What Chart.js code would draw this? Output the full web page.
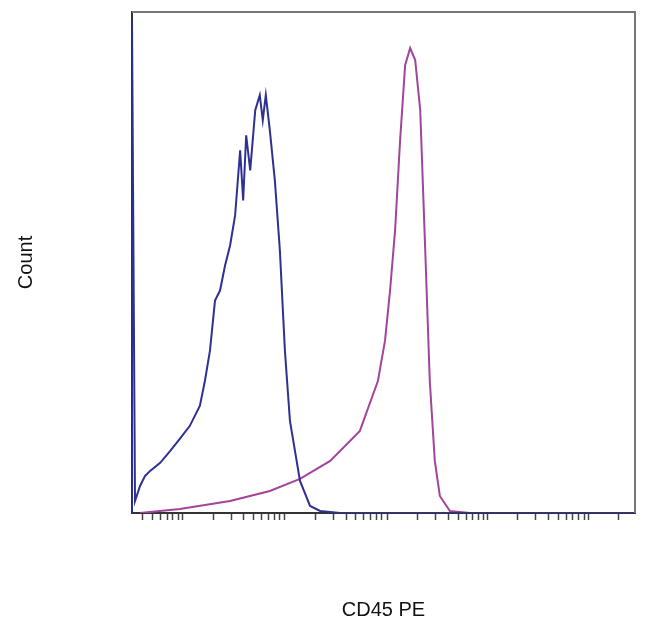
<!DOCTYPE html>
<html>
<head>
<meta charset="utf-8">
<script src="https://cdn.jsdelivr.net/npm/chart.js@4"></script>
<style>
  html, body { margin: 0; padding: 0; background: #fff; }
  #wrap { width: 650px; height: 627px; }
</style>
</head>
<body>
<div id="wrap"><canvas id="c"></canvas></div>
<script>
// data (x in 0-100 log display units, y in % of max count)
const isoX = [0,0,0.6,1.6,2.6,3.6,5.6,7.6,9.5,11.5,13.5,14.5,15.5,16.5,17.5,18.5,19.5,20.5,21.5,22.1,22.7,23.5,24.5,25.4,26.0,26.6,27.4,28.4,29.4,30.4,31.4,33.4,35.4,37.4,41.4,100];
const isoY = [0,98.4,2.4,5.4,7.4,8.4,10,12.4,14.8,17.4,21.4,26.4,32.4,42.4,44.4,49.4,53.4,59.4,72.4,62.4,75.4,68.4,80.4,83.4,78.4,83.4,76.4,66.4,52.4,32.4,18.4,6.4,1.4,0.4,0,0];
const cd45X = [1.6,9.5,19.5,27.4,33.4,39.4,45.3,48.9,50.3,51.3,52.3,53.3,54.3,55.3,56.3,57.3,58.3,59.2,60.2,61.2,63.2,67.2,100];
const cd45Y = [0,0.8,2.4,4.4,6.8,10.4,16.4,26.4,34.4,44.4,56.4,74.4,89.4,92.8,90.4,80.4,52.4,26.4,10.4,3.4,0.4,0,0];
const majorTicks = [10.1,30.4,50.7,70.6,90.7];
const minorSteps = [0.301,0.477,0.602,0.699,0.778,0.845,0.903,0.954];

const pts = (xs, ys) => xs.map((x, i) => ({x, y: ys[i]}));

const tickVals = [];
[-10.1].concat(majorTicks).forEach(m => {
  tickVals.push(m);
  minorSteps.forEach(s => tickVals.push(m + s * 20.2));
});

const frame = {
  id: 'frame',
  afterDraw(chart) {
    const {ctx, chartArea: a} = chart;
    ctx.save();
    ctx.strokeStyle = '#777';
    ctx.lineWidth = 2;
    ctx.beginPath();
    ctx.moveTo(a.left, a.top);
    ctx.lineTo(a.right, a.top);
    ctx.lineTo(a.right, a.bottom);
    ctx.stroke();
    ctx.restore();
  }
};

new Chart(document.getElementById('c'), {
  type: 'line',
  data: {
    datasets: [
      { data: pts(isoX, isoY), borderColor: '#2e3192', borderWidth: 2, pointRadius: 0, tension: 0 },
      { data: pts(cd45X, cd45Y), borderColor: '#a3449b', borderWidth: 2, pointRadius: 0, tension: 0 }
    ]
  },
  options: {
    responsive: true,
    maintainAspectRatio: false,
    animation: false,
    layout: { padding: { left: 14, right: 15, top: 12, bottom: 5 } },
    plugins: { legend: { display: false }, tooltip: { enabled: false } },
    scales: {
      x: {
        type: 'linear', min: 0, max: 100,
        afterBuildTicks: s => { s.ticks = tickVals.filter(v => v > 0 && v < 100).map(v => ({value: v})); },
        ticks: { display: false },
        grid: { drawOnChartArea: false, tickLength: 7, tickColor: '#444', tickWidth: 1.5 },
        border: { color: '#333', width: 2 },
        title: { display: true, text: 'CD45 PE', color: '#111', font: { family: 'Liberation Sans, Arial', size: 20 }, padding: { top: 78, bottom: 0 } }
      },
      y: {
        min: 0, max: 100,
        ticks: { display: false },
        grid: { display: false },
        border: { color: '#333', width: 2 },
        title: { display: true, text: 'Count', color: '#111', font: { family: 'Liberation Sans, Arial', size: 20 }, padding: { top: 0, bottom: 86 } }
      }
    }
  },
  plugins: [frame]
});
</script>
</body>
</html>
